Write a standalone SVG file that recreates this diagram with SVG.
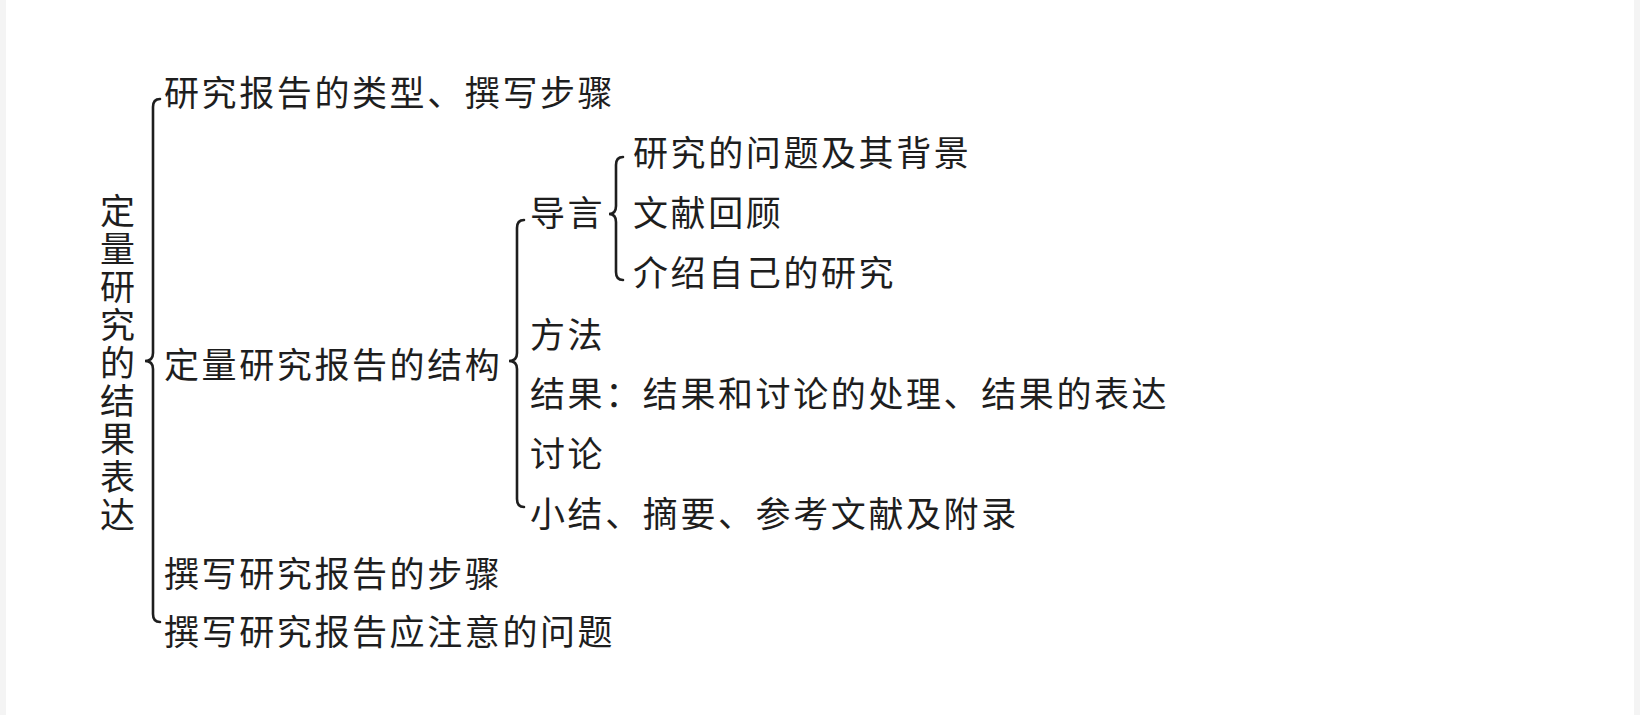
<svg xmlns="http://www.w3.org/2000/svg" width="1640" height="715" viewBox="0 0 1640 715">
<style>
text{font-family:"Liberation Serif","Noto Sans CJK SC",serif;font-size:35px;fill:#1e1e1e;letter-spacing:2.6px;dominant-baseline:central}
.b{fill:none;stroke:#1e1e1e;stroke-width:2.6;stroke-linecap:round}
</style>
<rect width="1640" height="715" fill="#f4f4f4"/>
<rect x="6" y="0" width="1628" height="715" fill="#fff"/>
<g id="root">
<text x="100" y="212">定</text><text x="100" y="250">量</text><text x="100" y="288">研</text><text x="100" y="326">究</text><text x="100" y="364">的</text><text x="100" y="402">结</text><text x="100" y="440">果</text><text x="100" y="478">表</text><text x="100" y="516">达</text>
</g>
<g id="connectors">
<path class="b" d="M160,99 Q153,99 153,107 L153,353 Q153,361 145,361 Q153,361 153,369 L153,614 Q153,622 160,622"/>
<path class="b" d="M524,220 Q517,220 517,228 L517,353 Q517,361 509,361 Q517,361 517,369 L517,499 Q517,507 524,507"/>
<path class="b" d="M623,157 Q616,157 616,165 L616,206 Q616,214 609,214 Q616,214 616,222 L616,272 Q616,280 623,280"/>
</g>
<g id="n1"><text x="164" y="94">研究报告的类型、撰写步骤</text></g>
<g id="n2"><text x="164" y="366">定量研究报告的结构</text></g>
<g id="n3"><text x="164" y="575">撰写研究报告的步骤</text></g>
<g id="n4"><text x="164" y="633">撰写研究报告应注意的问题</text></g>
<g id="n21"><text x="530" y="214">导言</text></g>
<g id="n22"><text x="530" y="336">方法</text></g>
<g id="n23"><text x="530" y="395">结果：结果和讨论的处理、结果的表达</text></g>
<g id="n24"><text x="530" y="455">讨论</text></g>
<g id="n25"><text x="530" y="515">小结、摘要、参考文献及附录</text></g>
<g id="n211"><text x="633" y="154">研究的问题及其背景</text></g>
<g id="n212"><text x="633" y="214">文献回顾</text></g>
<g id="n213"><text x="633" y="274">介绍自己的研究</text></g>
</svg>
